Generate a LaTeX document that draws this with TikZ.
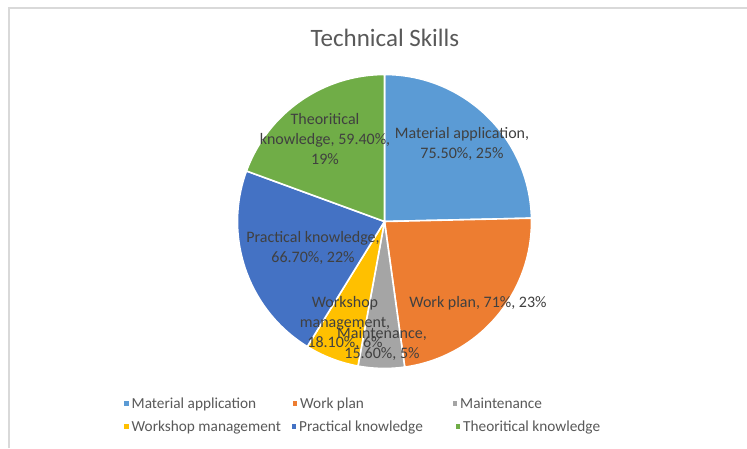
\documentclass[tikz,border=0pt]{standalone}
\usepackage{fontspec}
\setmainfont{Carlito}
\definecolor{cmat}{HTML}{5B9BD5}
\definecolor{cwork}{HTML}{ED7D31}
\definecolor{cmaint}{HTML}{A5A5A5}
\definecolor{cshop}{HTML}{FFC000}
\definecolor{cprac}{HTML}{4472C4}
\definecolor{ctheo}{HTML}{70AD47}
\definecolor{labtxt}{HTML}{404040}
\definecolor{legtxt}{HTML}{595959}
\definecolor{frame}{HTML}{D9D9D9}
\begin{document}
\begin{tikzpicture}[x=1pt,y=1pt,
  slice/.style={draw=white,line width=1.6pt,line join=round},
  lab/.style={text=labtxt,align=center,inner sep=0pt,font=\fontsize{16}{20}\selectfont},
  legmark/.style={minimum size=4.5pt,inner sep=0pt},
  legtext/.style={text=legtxt,anchor=base west,inner sep=0pt,font=\fontsize{15.3}{17}\selectfont}]
\useasboundingbox (0,0) rectangle (747,448);
\fill[white] (0,0) rectangle (747,448);
\draw[frame,line width=1.5pt] (9,0) -- (9,440) -- (747,440);
\coordinate (c) at (384.5,226.5);
\def\R{147}
\filldraw[slice,fill=cmat]   (c) -- ++(90:\R)    arc[start angle=90,end angle=1.3,radius=\R] -- cycle;
\filldraw[slice,fill=cwork]  (c) -- ++(1.3:\R)   arc[start angle=1.3,end angle=-82.1,radius=\R] -- cycle;
\filldraw[slice,fill=cmaint] (c) -- ++(-82.1:\R) arc[start angle=-82.1,end angle=-100.4,radius=\R] -- cycle;
\filldraw[slice,fill=cshop]  (c) -- ++(-100.4:\R) arc[start angle=-100.4,end angle=-121.7,radius=\R] -- cycle;
\filldraw[slice,fill=cprac]  (c) -- ++(-121.7:\R) arc[start angle=-121.7,end angle=-200.1,radius=\R] -- cycle;
\filldraw[slice,fill=ctheo]  (c) -- ++(-200.1:\R) arc[start angle=-200.1,end angle=-270,radius=\R] -- cycle;
\node[text=legtxt,font=\fontsize{25}{28}\selectfont] (title) at (385,410) {Technical Skills};
\node[lab] (lmat) at (462,304) {Material application,\\75.50\%, 25\%};
\node[lab] (ltheo) at (325,309) {Theoritical\\knowledge, 59.40\%,\\19\%};
\node[lab] (lprac) at (313,200.5) {Practical knowledge,\\66.70\%, 22\%};
\node[lab] (lwork) at (478,145) {Work plan, 71\%, 23\%};
\node[lab] (lshop) at (345,125) {Workshop\\management,\\18.10\%, 6\%};
\node[lab] (lmaint) at (382,104) {Maintenance,\\15.60\%, 5\%};
% legend
\node[legmark,fill=cmat]   (m1) at (126.5,44.5) {};
\node[legtext] (t1) at (131.5,40) {Material application};
\node[legmark,fill=cwork]  (m2) at (295,44.5) {};
\node[legtext] (t2) at (300,40) {Work plan};
\node[legmark,fill=cmaint] (m3) at (455,44.5) {};
\node[legtext] (t3) at (460,40) {Maintenance};
\node[legmark,fill=cshop]  (m4) at (126.5,21.5) {};
\node[legtext] (t4) at (131.5,17) {Workshop management};
\node[legmark,fill=cprac]  (m5) at (294,21.5) {};
\node[legtext] (t5) at (299,17) {Practical knowledge};
\node[legmark,fill=ctheo]  (m6) at (458,21.5) {};
\node[legtext] (t6) at (463,17) {Theoritical knowledge};
\end{tikzpicture}
\end{document}
